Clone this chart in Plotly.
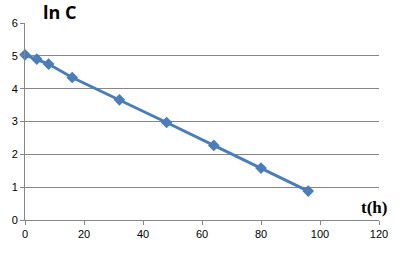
import plotly.graph_objects as go

t_hours = [0, 4, 8, 16, 32, 48, 64, 80, 96]
ln_c = [5.03, 4.9, 4.75, 4.34, 3.66, 2.97, 2.27, 1.58, 0.88]
x_ticks = [0, 20, 40, 60, 80, 100, 120]
y_ticks = [0, 1, 2, 3, 4, 5, 6]

fig = go.Figure()
fig.add_trace(go.Scatter(
    x=t_hours, y=ln_c, mode="lines+markers",
    line=dict(color="#4a7ebb", width=3),
    marker=dict(symbol="diamond", size=9, color="#4a7ebb"),
    showlegend=False, cliponaxis=False,
))

fig.update_layout(
    width=400, height=254,
    margin=dict(l=24, r=16, t=23, b=34),
    paper_bgcolor="white", plot_bgcolor="white",
    font=dict(family="Liberation Sans, Arial", size=11, color="#000000"),
    xaxis=dict(range=[0, 120], tickvals=x_ticks, showgrid=False,
               showline=True, linecolor="#868686", linewidth=1,
               ticks="outside", ticklen=4, tickcolor="#868686",
               tickfont=dict(color="#000000", size=11),
               zeroline=False, fixedrange=True),
    yaxis=dict(range=[0, 6], tickvals=y_ticks, showgrid=True,
               gridcolor="#868686", gridwidth=1,
               showline=True, linecolor="#868686", linewidth=1,
               ticks="outside", ticklen=4, tickcolor="#868686",
               tickfont=dict(color="#000000", size=11),
               zeroline=False, fixedrange=True),
    shapes=[
        dict(type="rect", xref="x", yref="y", x0=3, x1=21, y0=5.9, y1=6.1,
             fillcolor="white", line=dict(width=0), layer="between"),
    ],
    annotations=[
        dict(text="<b>ln C</b>", x=59.5, y=11, xref="paper", yref="paper",
             xanchor="center", yanchor="middle", showarrow=False,
             font=dict(family="Open Sans, Arial", size=18, color="#000000")),
        dict(text="<b>t(h)</b>", x=118.3, y=0.38, xref="x", yref="y",
             xanchor="center", yanchor="middle", showarrow=False,
             font=dict(family="Liberation Serif, Times New Roman", size=17, color="#000000")),
    ],
)
# place "ln C" in pixel terms above plot area
ann = fig.layout.annotations[0]
ann.x = (59.5 - 24) / 360
ann.y = 1 + (22 - 11) / 197

fig.write_html("out.html")
